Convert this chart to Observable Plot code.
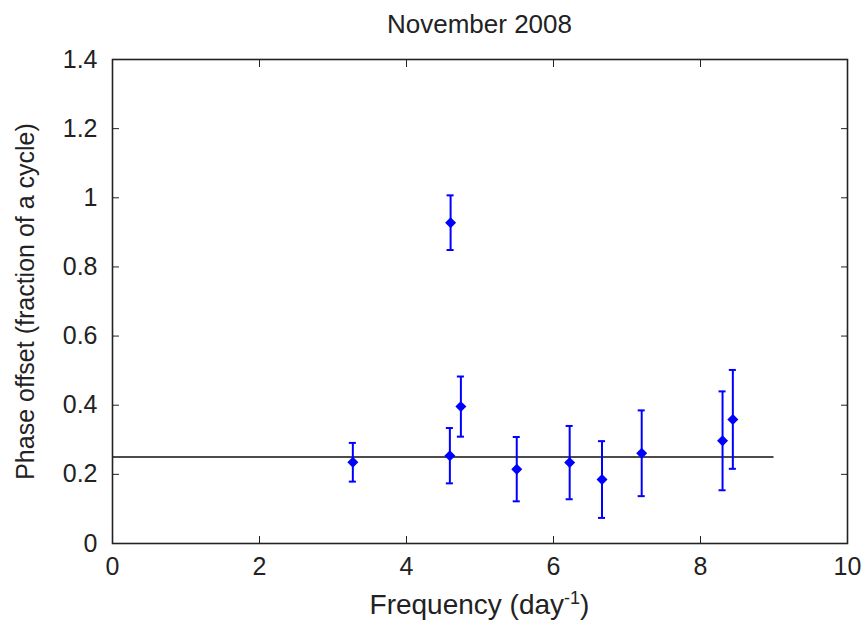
<!DOCTYPE html>
<html>
<head>
<meta charset="utf-8">
<script src="https://cdn.jsdelivr.net/npm/d3@7"></script>
<script src="https://cdn.jsdelivr.net/npm/@observablehq/plot@0.6"></script>
<style>
  html, body { margin: 0; padding: 0; background: #fff; }
  #wrap { position: relative; width: 866px; height: 632px; font-family: "Liberation Sans", Arial, sans-serif; color: #222; }
  #title { position: absolute; left: 112px; width: 735px; top: 11px; text-align: center; font-size: 26px; line-height: 1; }
  #xlabel { position: absolute; left: 112px; width: 735px; top: 591px; text-align: center; font-size: 28px; line-height: 1; }
  #xlabel sup { font-size: 18px; vertical-align: 0.55em; line-height: 0; }
</style>
</head>
<body>
<div id="wrap">
  <div id="chart"></div>
  <div id="title">November 2008</div>
  <div id="xlabel">Frequency (day<sup>-1</sup>)</div>
</div>
<script>
// Data
const frequency = [3.27, 4.59, 4.60, 4.74, 5.50, 6.22, 6.66, 7.20, 8.30, 8.44];
const phase     = [0.235, 0.254, 0.928, 0.396, 0.215, 0.234, 0.185, 0.261, 0.297, 0.359];
const phaseErr  = [0.056, 0.080, 0.079, 0.087, 0.093, 0.106, 0.111, 0.124, 0.143, 0.143];
const refLevel = [0.25];
const refRange = [0, 9];
const xTicks = [0, 2, 4, 6, 8, 10];
const yTicks = [0, 0.2, 0.4, 0.6, 0.8, 1, 1.2, 1.4];
const yLabel = "Phase offset (fraction of a cycle)";

const rows = frequency.map((f, i) => ({f, p: phase[i], lo: phase[i] - phaseErr[i], hi: phase[i] + phaseErr[i]}));
const capHalf = 0.048;
const blue = "#0000ff";
const fmt = d => String(d);

const chart = Plot.plot({
  width: 866,
  height: 632,
  marginTop: 59,
  marginBottom: 89,
  marginLeft: 112,
  marginRight: 19,
  style: {fontFamily: "Liberation Sans, Arial, sans-serif", fontSize: "25px", color: "#222", background: "#fff"},
  x: {domain: [0, 10]},
  y: {domain: [0, 1.4]},
  marks: [
    Plot.ruleY(refLevel, {y: d => d, x1: refRange[0], x2: refRange[1], stroke: "#111", strokeWidth: 1.6}),
    Plot.ruleX(rows, {x: "f", y1: "lo", y2: "hi", stroke: blue, strokeWidth: 2}),
    Plot.ruleY(rows, {y: "hi", x1: d => d.f - capHalf, x2: d => d.f + capHalf, stroke: blue, strokeWidth: 2}),
    Plot.ruleY(rows, {y: "lo", x1: d => d.f - capHalf, x2: d => d.f + capHalf, stroke: blue, strokeWidth: 2}),
    Plot.dot(rows, {x: "f", y: "p", r: 4, fill: blue, stroke: blue, symbol: "diamond2"}),
    Plot.frame({stroke: "#222", strokeWidth: 1.6}),
    Plot.axisX({anchor: "bottom", ticks: xTicks, tickSize: -7, tickPadding: 21, tickFormat: fmt, label: null, fontSize: 25}),
    Plot.axisX({anchor: "top", ticks: xTicks, tickSize: -7, tickFormat: () => "", label: null}),
    Plot.axisY({anchor: "left", ticks: yTicks, tickSize: -7, tickPadding: 22, tickFormat: fmt, label: yLabel, labelAnchor: "center", labelArrow: "none", labelOffset: 96, fontSize: 25}),
    Plot.axisY({anchor: "right", ticks: yTicks, tickSize: -7, tickFormat: () => "", label: null})
  ]
});
document.getElementById("chart").appendChild(chart);
</script>
</body>
</html>
